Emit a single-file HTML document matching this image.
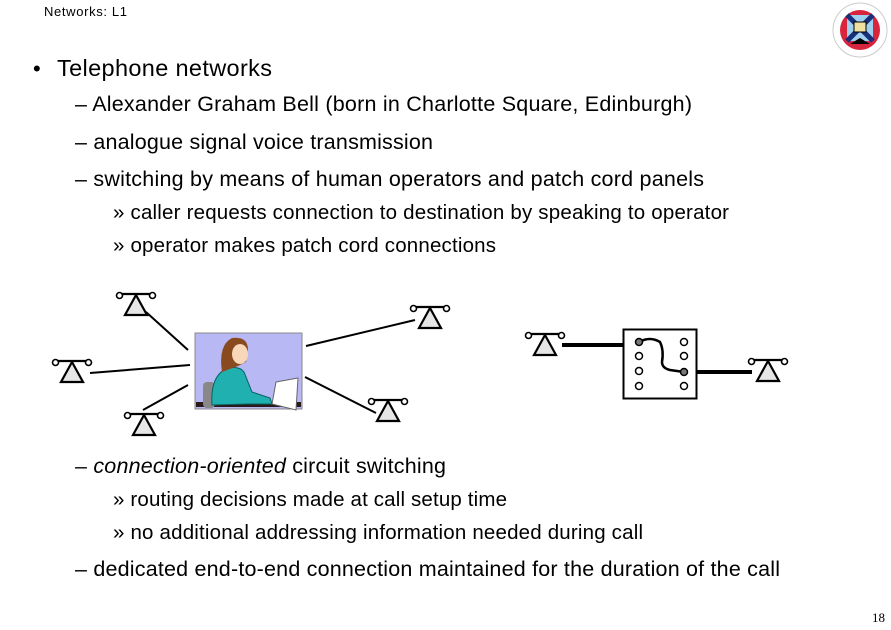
<!DOCTYPE html>
<html><head><meta charset="utf-8"><style>
html,body{margin:0;padding:0;background:#fff;}
svg{display:block;}
text{font-family:"Liberation Sans",Arial,sans-serif;fill:#000;}
</style></head><body>
<svg width="891" height="630" viewBox="0 0 891 630" xmlns="http://www.w3.org/2000/svg">
<defs>
<g id="ph">
<line x1="-14" y1="0" x2="14" y2="0" stroke="#000" stroke-width="2.2"/>
<circle cx="-16.5" cy="1.5" r="3" fill="#fff" stroke="#000" stroke-width="1.6"/>
<circle cx="16.5" cy="1.5" r="3" fill="#fff" stroke="#000" stroke-width="1.6"/>
<polygon points="0,1 -11,21 11,21" fill="#e6e6e6" stroke="#000" stroke-width="2.2" stroke-linejoin="miter"/>
</g>
</defs>
<text x="44" y="16" font-size="13" textLength="83">Networks: L1</text>
<g>
<circle cx="860" cy="30" r="27" fill="#fff" stroke="#ccc" stroke-width="1"/>
<circle cx="860" cy="30" r="20" fill="#d8243c"/>
<rect x="847" y="15" width="26" height="26" fill="#9fd0f0"/>
<path d="M847 15 L873 41 M873 15 L847 41" stroke="#1a2f7a" stroke-width="5"/>
<rect x="854" y="22" width="12" height="10" fill="#f0e0a0" stroke="#000" stroke-width="1"/>
<path d="M850 44 L860 38 L870 44 Z" fill="#000"/>
</g>
<text x="33" y="76" font-size="22">•</text>
<text x="57" y="76" font-size="23.5" textLength="215">Telephone networks</text>
<text x="75" y="111" font-size="21.5" textLength="617">– Alexander Graham Bell (born in Charlotte Square, Edinburgh)</text>
<text x="75" y="149" font-size="21.5" textLength="358">– analogue signal voice transmission</text>
<text x="75" y="186" font-size="21.5" textLength="629">– switching by means of human operators and patch cord panels</text>
<text x="113" y="219" font-size="20.5" textLength="616">» caller requests connection to destination by speaking to operator</text>
<text x="113" y="252" font-size="20.5" textLength="383">» operator makes patch cord connections</text>

<g stroke="#000" stroke-width="2">
<line x1="146" y1="312" x2="188" y2="350"/>
<line x1="90" y1="373" x2="190" y2="365"/>
<line x1="143" y1="410" x2="188" y2="385"/>
<line x1="306" y1="346" x2="415" y2="320"/>
<line x1="305" y1="377" x2="376" y2="413"/>
</g>
<use href="#ph" x="136" y="294"/>
<use href="#ph" x="72" y="361"/>
<use href="#ph" x="144" y="414"/>
<use href="#ph" x="430" y="307"/>
<use href="#ph" x="388" y="400"/>
<g>
<rect x="195" y="333" width="107" height="76" fill="#b8b8f4" stroke="#888" stroke-width="1"/>
<rect x="196" y="402" width="105" height="5" fill="#2a1a1a"/>
<rect x="203" y="382" width="12" height="26" rx="4" fill="#888"/>
<path d="M212 405 Q210 375 228 368 Q240 366 244 372 L252 392 L270 398 L272 404 L248 404 Z" fill="#20b0b0" stroke="#0a6060" stroke-width="1"/>
<path d="M222 372 Q218 345 232 338 Q248 336 248 350 L246 362 L238 366 Z" fill="#8a4a20"/>
<ellipse cx="240" cy="354" rx="8" ry="10" fill="#f8d8b8"/>
<polygon points="276,382 298,378 296,410 272,404" fill="#fff" stroke="#666" stroke-width="1"/>
</g>

<g stroke="#000" stroke-width="4">
<line x1="562" y1="345" x2="623" y2="345"/>
<line x1="697" y1="372" x2="752" y2="372"/>
</g>
<use href="#ph" x="545" y="334"/>
<use href="#ph" x="768" y="360"/>
<rect x="623.5" y="329.5" width="73" height="69" fill="#fff" stroke="#000" stroke-width="2"/>
<g fill="#fff" stroke="#000" stroke-width="1.5">
<circle cx="639" cy="356" r="3.5"/><circle cx="639" cy="371" r="3.5"/><circle cx="639" cy="386" r="3.5"/>
<circle cx="684" cy="342" r="3.5"/><circle cx="684" cy="356" r="3.5"/><circle cx="684" cy="386" r="3.5"/>
</g>
<path d="M639 342 Q650 336 660 342 Q664 350 662 362 Q662 368 670 370 L684 372" fill="none" stroke="#000" stroke-width="2.5"/>
<circle cx="639" cy="342" r="3.5" fill="#777" stroke="#000" stroke-width="1.5"/>
<circle cx="684" cy="372" r="3.5" fill="#777" stroke="#000" stroke-width="1.5"/>

<text x="75" y="473" font-size="21.5" textLength="371"><tspan font-style="italic">– connection-oriented</tspan> circuit switching</text>
<text x="113" y="506" font-size="20.5" textLength="394">» routing decisions made at call setup time</text>
<text x="113" y="539" font-size="20.5" textLength="530">» no additional addressing information needed during call</text>
<text x="75" y="576" font-size="21.5" textLength="705">– dedicated end-to-end connection maintained for the duration of the call</text>
<text x="872" y="622" font-size="13" style="font-family:'Liberation Serif',serif">18</text>
</svg>
</body></html>
